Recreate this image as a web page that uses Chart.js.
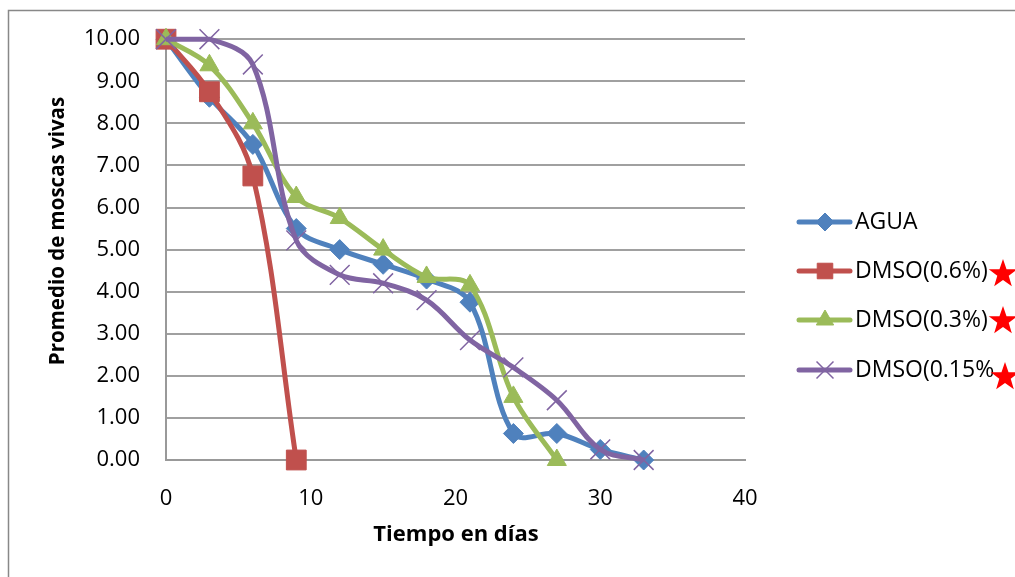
<!DOCTYPE html>
<html>
<head>
<meta charset="utf-8">
<script src="https://cdn.jsdelivr.net/npm/chart.js@4/dist/chart.umd.min.js"></script>
<style>
  body { margin: 0; background: #fff; }
</style>
</head>
<body>
<canvas id="canvas" width="1015" height="577"></canvas>
<script>
// days
var dias = [0, 3, 6, 9, 12, 15, 18, 21, 24, 27, 30, 33];

var agua = [10, 8.62, 7.5, 5.5, 5.0, 4.65, 4.3, 3.75, 0.63, 0.63, 0.25, 0];
var dmso06 = [10, 8.75, 6.75, 0];
var dmso03 = [10, 9.38, 8.0, 6.25, 5.75, 5.0, 4.35, 4.15, 1.5, 0];
var dmso015 = [10, 10, 9.4, 5.22, 4.4, 4.2, 3.8, 2.85, 2.2, 1.42, 0.25, 0];

var nombres = ['AGUA', 'DMSO(0.6%)', 'DMSO(0.3%)', 'DMSO(0.15%'];
var colores = ['#4F81BD', '#C0504D', '#9BBB59', '#8064A2'];
var yTicks = [0, 1, 2, 3, 4, 5, 6, 7, 8, 9, 10];
var xTicks = [0, 10, 20, 30, 40];
var tituloY = 'Promedio de moscas vivas';
var tituloX = 'Tiempo en días';

function toPoints(vals) {
   return vals.map(function(v, i) { return {x: dias[i], y: v}; });
}

var FONT = "'Open Sans', 'Noto Sans', sans-serif";

var marcas = [
   {style: 'rectRot', r: 10, bw: 1, lr: 9},
   {style: 'rect', r: 14, bw: 1, lr: 11},
   {style: 'triangle', r: 11, bw: 1, lr: 10},
   {style: 'crossRot', r: 14, bw: 1.5, lr: 12}
];

var series = [agua, dmso06, dmso03, dmso015];

var datasets = series.map(function(vals, i) {
   return {
      label: nombres[i],
      data: toPoints(vals),
      borderColor: colores[i],
      backgroundColor: colores[i],
      borderWidth: 5,
      tension: 0.35,
      pointStyle: marcas[i].style,
      pointRadius: marcas[i].r,
      pointHoverRadius: marcas[i].r,
      pointBorderWidth: marcas[i].bw,
      pointBorderColor: colores[i],
      pointBackgroundColor: colores[i],
      clip: false,
      order: 4 - i
   };
});

function star(ctx, cx, cy, R, r) {
   ctx.beginPath();
   for (var k = 0; k < 10; k++) {
      var rad = (k % 2 === 0) ? R : r;
      var a = -Math.PI / 2 + k * Math.PI / 5;
      var px = cx + Math.cos(a) * rad, py = cy + Math.sin(a) * rad;
      if (k === 0) ctx.moveTo(px, py); else ctx.lineTo(px, py);
   }
   ctx.closePath();
   ctx.fill();
}

var extras = {
   id: 'extras',
   beforeDraw: function(chart) {
      var ctx = chart.ctx;
      ctx.save();
      ctx.strokeStyle = '#888';
      ctx.lineWidth = 1.5;
      ctx.beginPath();
      ctx.moveTo(8.5, 577);
      ctx.lineTo(8.5, 10.5);
      ctx.lineTo(1015, 10.5);
      ctx.stroke();
      ctx.restore();
   },
   afterDraw: function(chart) {
      var ctx = chart.ctx;
      var rows = [222, 271, 320, 370];
      ctx.save();
      // axis titles
      ctx.fillStyle = '#000';
      ctx.textAlign = 'center';
      ctx.textBaseline = 'middle';
      ctx.font = 'bold 22px ' + FONT;
      ctx.fillText(tituloX, 456, 535);
      ctx.save();
      ctx.translate(58, 231);
      ctx.rotate(-Math.PI / 2);
      ctx.font = 'bold 20.5px ' + FONT;
      ctx.fillText(tituloY, 0, 0);
      ctx.restore();

      for (var i = 0; i < 4; i++) {
         var y = rows[i];
         ctx.strokeStyle = colores[i];
         ctx.lineWidth = 5;
         ctx.lineCap = 'round';
         ctx.beginPath();
         ctx.moveTo(799, y);
         ctx.lineTo(850, y);
         ctx.stroke();
         ctx.fillStyle = colores[i];
         ctx.strokeStyle = colores[i];
         ctx.lineWidth = marcas[i].bw;
         ctx.lineCap = 'butt';
         Chart.helpers.drawPoint(ctx, {pointStyle: marcas[i].style, radius: marcas[i].lr, rotation: 0, borderWidth: marcas[i].bw}, 825, y);
         ctx.fillStyle = '#000';
         ctx.font = '23px ' + FONT;
         ctx.textBaseline = 'middle';
         ctx.textAlign = 'left';
         ctx.fillText(nombres[i], 855, y);
      }
      ctx.fillStyle = '#FF0000';
      star(ctx, 1003, 274, 15, 6);
      star(ctx, 1003, 321, 15, 6);
      star(ctx, 1005, 377, 15, 6);
      ctx.restore();
   }
};

var ctx = document.getElementById('canvas').getContext('2d');
var myChart = new Chart(ctx, {
   type: 'line',
   data: { datasets: datasets },
   plugins: [extras],
   options: {
      responsive: false,
      animation: false,
      layout: { padding: { left: 0, top: 39, right: 270, bottom: 0 } },
      plugins: {
         legend: { display: false },
         tooltip: { enabled: false },
         title: { display: false }
      },
      scales: {
         x: {
            type: 'linear',
            min: 0,
            max: 40,
            afterFit: function(scale) { scale.height = 117; },
            afterBuildTicks: function(scale) {
               scale.ticks = xTicks.map(function(v) { return {value: v}; });
            },
            grid: { display: false, drawTicks: false },
            border: { display: true, color: '#999', width: 2 },
            ticks: {
               padding: 26,
               color: '#000',
               font: { family: FONT, size: 22 }
            }
         },
         y: {
            min: 0,
            max: 10,
            afterFit: function(scale) { scale.width = 166; },
            afterBuildTicks: function(scale) {
               scale.ticks = yTicks.map(function(v) { return {value: v}; });
            },
            grid: { color: '#a0a0a0', lineWidth: 2, drawTicks: false },
            border: { display: true, color: '#999', width: 2 },
            ticks: {
               padding: 26,
               color: '#000',
               font: { family: FONT, size: 22 },
               callback: function(v) { return Number(v).toFixed(2); }
            }
         }
      }
   }
});
</script>
</body>
</html>
